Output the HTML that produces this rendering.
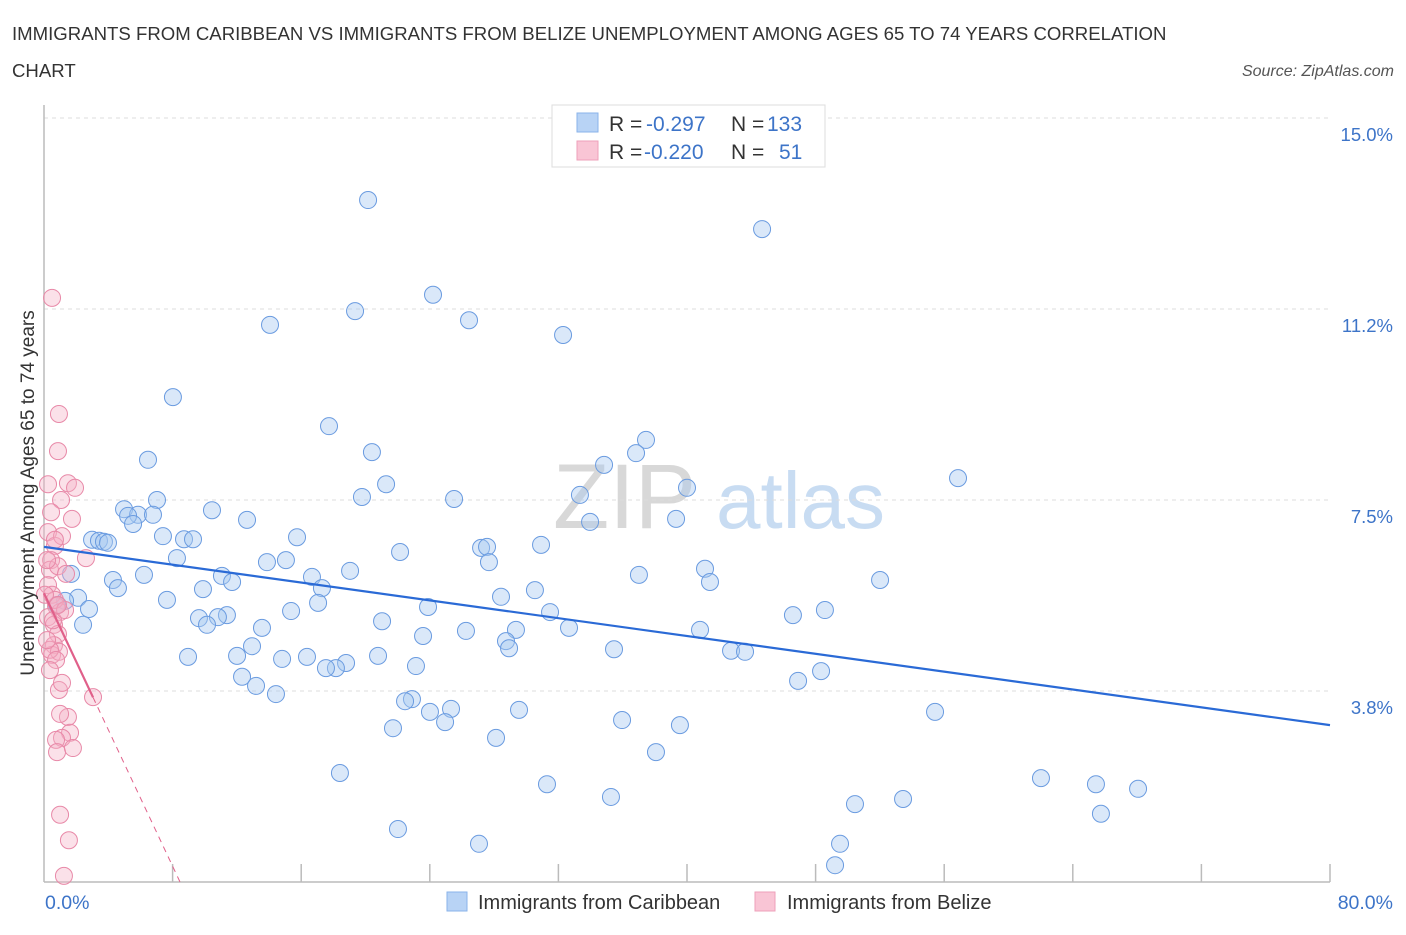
<!DOCTYPE html>
<html><head><meta charset="utf-8"><style>
body{margin:0;background:#fff;font-family:"Liberation Sans",sans-serif;}
svg text{font-family:"Liberation Sans",sans-serif;}
</style></head><body>
<svg id="chart" width="1406" height="930" xmlns="http://www.w3.org/2000/svg">
<text x="12" y="40" font-size="18.6" fill="#333">IMMIGRANTS FROM CARIBBEAN VS IMMIGRANTS FROM BELIZE UNEMPLOYMENT AMONG AGES 65 TO 74 YEARS CORRELATION</text>
<text x="12" y="77" font-size="18.6" fill="#333">CHART</text>
<text x="1394" y="76" font-size="16" fill="#555" font-style="italic" text-anchor="end">Source: ZipAtlas.com</text>
<g>
<text x="553" y="528" font-size="92" fill="#d8d8d8" font-family="Liberation Serif">ZIP</text>
<text x="716" y="528" font-size="80" fill="#c8dcf2">atlas</text>
</g>
<g id="grid"></g>
<g id="axes"></g>
<g id="pts"></g>
<g id="trends"></g>
<text x="0" y="0" transform="translate(34,493) rotate(-90)" font-size="19" fill="#333" text-anchor="middle">Unemployment Among Ages 65 to 74 years</text>
<g>
<rect x="552" y="105" width="273" height="62" fill="#fff" stroke="#ddd"/>
<rect x="577" y="113" width="21" height="19" fill="#b8d3f5" stroke="#8ab3ea"/>
<rect x="577" y="141" width="21" height="19" fill="#f9c5d5" stroke="#eea0ba"/>
<text x="609" y="131" font-size="21" fill="#333">R = <tspan x="646" fill="#3d74c8">-0.297</tspan><tspan x="731">N = </tspan><tspan x="767" fill="#3d74c8">133</tspan></text>
<text x="609" y="159" font-size="21" fill="#333">R = <tspan x="644" fill="#3d74c8">-0.220</tspan><tspan x="731">N = </tspan><tspan x="779" fill="#3d74c8">51</tspan></text>
</g>
<g>
<rect x="447" y="892" width="20" height="19" fill="#b8d3f5" stroke="#8ab3ea"/>
<text x="478" y="909" font-size="20" fill="#333">Immigrants from Caribbean</text>
<rect x="755" y="892" width="20" height="19" fill="#f9c5d5" stroke="#eea0ba"/>
<text x="787" y="909" font-size="20" fill="#333">Immigrants from Belize</text>
</g>
</svg>
<script>
const blueX=[20.16,44.67,24.20,14.06,19.35,26.44,32.29,8.02,17.73,20.40,37.45,36.83,34.84,6.47,21.28,40.00,56.86,19.78,25.51,33.34,7.03,4.98,10.45,5.85,6.78,5.23,33.97,39.32,12.63,5.54,2.99,3.42,7.40,8.71,9.27,3.73,3.98,15.74,30.92,27.19,27.56,22.15,8.27,13.87,15.05,27.68,41.12,19.04,1.68,6.22,16.67,37.01,11.07,4.29,11.70,52.01,41.43,4.60,9.89,17.29,30.54,28.43,7.65,2.12,1.31,17.05,0.81,23.89,2.80,31.48,15.37,48.58,46.59,11.38,9.64,10.82,10.14,2.43,21.03,32.66,13.56,29.36,26.25,40.81,23.58,12.94,28.74,28.93,35.46,42.74,43.61,8.96,12.01,14.81,16.36,20.78,18.79,18.16,17.54,23.14,48.34,12.32,46.91,13.19,14.43,22.89,22.46,29.55,24.01,25.32,24.95,35.96,39.56,55.43,21.71,28.12,38.07,18.41,62.02,65.44,31.29,68.06,35.27,53.44,50.45,65.75,22.02,27.06,49.52,49.21];
const blueY=[13.39,12.82,11.53,10.94,11.21,11.03,10.74,9.52,8.95,8.44,8.68,8.42,8.19,8.29,7.81,7.74,7.93,7.56,7.52,7.60,7.50,7.32,7.30,7.21,7.21,7.19,7.07,7.13,7.11,7.03,6.72,6.70,6.79,6.73,6.73,6.68,6.66,6.77,6.62,6.56,6.58,6.48,6.36,6.28,6.32,6.28,6.15,6.11,6.05,6.03,5.99,6.03,6.01,5.93,5.89,5.93,5.89,5.77,5.75,5.77,5.73,5.60,5.54,5.58,5.52,5.48,5.44,5.40,5.36,5.30,5.32,5.34,5.24,5.24,5.18,5.20,5.05,5.05,5.12,4.99,4.99,4.95,4.93,4.95,4.83,4.63,4.73,4.59,4.57,4.54,4.52,4.42,4.44,4.38,4.42,4.44,4.30,4.20,4.20,4.24,4.14,4.03,3.95,3.85,3.69,3.59,3.55,3.38,3.34,3.40,3.14,3.18,3.08,3.34,3.02,2.83,2.55,2.14,2.04,1.92,1.92,1.83,1.67,1.63,1.53,1.34,1.04,0.75,0.75,0.33];
const pinkX=[0.50,0.93,0.87,1.49,1.93,0.25,1.06,0.44,1.74,0.25,0.68,1.12,0.44,0.37,2.61,0.87,1.37,0.25,0.50,0.75,1.00,0.25,0.62,0.87,0.62,0.50,0.93,3.05,0.93,1.12,1.49,1.62,1.12,0.75,0.81,1.80,1.00,0.37,0.68,0.56,0.19,0.75,1.00,1.55,1.24,0.37,0.06,1.31,0.68,0.19,0.87];
const pinkY=[11.47,9.19,8.46,7.83,7.74,7.81,7.50,7.26,7.13,6.87,6.60,6.79,6.32,6.13,6.36,6.20,6.05,5.83,5.64,5.42,5.30,5.20,5.05,4.87,4.65,4.46,4.52,3.63,3.77,3.91,3.24,2.93,2.83,2.79,2.55,2.63,3.30,4.56,5.54,5.14,4.75,4.36,1.32,0.82,0.12,4.16,5.64,5.34,6.72,6.32,5.44];
const yTicks=[3.75,7.5,11.25,15];
const yTickLabels=["3.8%","7.5%","11.2%","15.0%"];
const blueTrend=[6.58,-0.04375]; // intercept, slope
const pinkTrend=[5.67,-0.67];
const NS="http://www.w3.org/2000/svg";
const sx=v=>44+v*16.075, sy=v=>882-v*50.93;
function mk(parent,tag,attrs){const e=document.createElementNS(NS,tag);for(const k in attrs)e.setAttribute(k,attrs[k]);document.getElementById(parent).appendChild(e);return e;}
yTicks.forEach((t,i)=>{
 const g=mk('grid','line',{x1:44,x2:1330,y1:sy(t),y2:sy(t),stroke:'#ddd','stroke-dasharray':'4,4'});
 
 
 const tx=mk('grid','text',{x:1393,y:sy(t)+23,'font-size':18.5,fill:'#3d74c8','text-anchor':'end'});
 tx.textContent=yTickLabels[i];
 
 
});
const ya=mk('axes','line',{x1:44,x2:44,y1:105,y2:882,stroke:'#bbb','stroke-width':1.5});


const xa=mk('axes','line',{x1:44,x2:1330,y1:882,y2:882,stroke:'#bbb','stroke-width':1.5});


for(let v=8;v<=80;v+=8){
 const t=mk('axes','line',{x1:sx(v),x2:sx(v),y1:864,y2:882,stroke:'#bbb','stroke-width':1.5});
 
 
}
const x0=mk('axes','text',{x:45,y:909,'font-size':19.5,fill:'#3d74c8'});x0.textContent='0.0%';


const x1=mk('axes','text',{x:1393,y:909,'font-size':19.5,fill:'#3d74c8','text-anchor':'end'});x1.textContent='80.0%';


blueX.forEach((v,i)=>{
 const c=mk('pts','circle',{cx:sx(v),cy:sy(blueY[i]),r:8.5,fill:'rgba(168,200,240,0.42)',stroke:'#6a9be0','stroke-width':1});
 
 
});
pinkX.forEach((v,i)=>{
 const c=mk('pts','circle',{cx:sx(v),cy:sy(pinkY[i]),r:8.5,fill:'rgba(245,175,198,0.38)',stroke:'#e889a8','stroke-width':1});
 
 
});
const bl=mk('trends','line',{x1:sx(0),y1:sy(blueTrend[0]),x2:sx(80),y2:sy(blueTrend[0]+blueTrend[1]*80),stroke:'#2a6ad6','stroke-width':2.2});


const pxMax=Math.max(...pinkX);
const pl=mk('trends','line',{x1:sx(0),y1:sy(pinkTrend[0]),x2:sx(pxMax),y2:sy(pinkTrend[0]+pinkTrend[1]*pxMax),stroke:'#e0608a','stroke-width':2.2});


const xz=-pinkTrend[0]/pinkTrend[1];
const pd=mk('trends','line',{x1:sx(pxMax),y1:sy(pinkTrend[0]+pinkTrend[1]*pxMax),x2:sx(xz),y2:sy(0),stroke:'#e0608a','stroke-width':1,'stroke-dasharray':'6,5'});


</script>
</body></html>
